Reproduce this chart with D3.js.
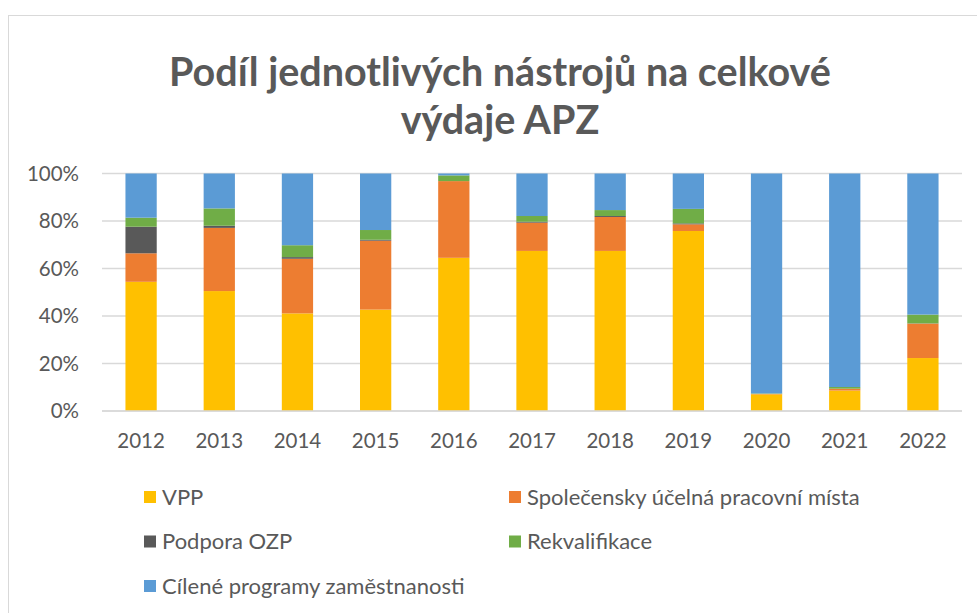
<!DOCTYPE html>
<html>
<head>
<meta charset="utf-8">
<script src="https://cdn.jsdelivr.net/npm/d3@7"></script>
<style>
  body { margin: 0; background: #fff; }
  text { font-family: Lato, "Noto Sans", sans-serif; fill: #595959; }
</style>
</head>
<body>
<script>
// data (percent of total APZ spending)
let years = ['2012', '2013', '2014', '2015', '2016', '2017', '2018', '2019', '2020', '2021', '2022'];
let vpp = [54.4, 50.5, 41.1, 42.7, 64.5, 67.4, 67.4, 75.8, 7.0, 8.6, 22.3];
let supm = [12.0, 26.6, 23.0, 29.0, 32.3, 11.9, 14.3, 2.8, 0.2, 0.8, 14.5];
let ozp = [11.2, 0.9, 0.7, 0.4, 0.0, 0.4, 0.4, 0.4, 0.0, 0.0, 0.1];
let rekv = [3.8, 7.3, 5.0, 4.1, 2.4, 2.4, 2.5, 6.1, 0.2, 0.7, 3.7];
let cilene = [18.6, 14.7, 30.2, 23.8, 0.8, 17.9, 15.4, 14.9, 92.6, 89.9, 59.4];
let seriesNames = ['VPP', 'Společensky účelná pracovní místa', 'Podpora OZP', 'Rekvalifikace', 'Cílené programy zaměstnanosti'];
let yTicks = [0, 0.2, 0.4, 0.6, 0.8, 1];
let titleLines = ['Podíl jednotlivých nástrojů na celkové', 'výdaje APZ'];

let colors = ['#FFC000', '#ED7D31', '#595959', '#70AD47', '#5B9BD5'];
let keys = ['vpp', 'supm', 'ozp', 'rekv', 'cilene'];

let table = years.map(function(y, i) {
  return { year: y, vpp: vpp[i], supm: supm[i], ozp: ozp[i], rekv: rekv[i], cilene: cilene[i] };
});

let width = 977, height = 613;
let plot = { left: 102, right: 962, top: 173.5, bottom: 411 };

let svg = d3.select('body').append('svg').attr('width', width).attr('height', height);

// chart frame
svg.append('rect').attr('x', 8.5).attr('y', 15.5).attr('width', 990).attr('height', 620)
  .attr('fill', '#fff').attr('stroke', '#d9d9d9').attr('stroke-width', 1);

// title
svg.append('g').selectAll('text').data(titleLines).enter().append('text')
  .attr('x', 500).attr('y', function(d, i) { return 86 + i * 48; })
  .attr('text-anchor', 'middle')
  .style('font-size', '39.5px').style('font-weight', 'bold')
  .text(function(d) { return d; });

let x = d3.scaleBand().domain(years).range([plot.left, plot.right]).paddingInner(0.6).paddingOuter(0.3);
let y = d3.scaleLinear().domain([0, 1]).range([plot.bottom, plot.top]);

// gridlines
svg.append('g').selectAll('line').data(yTicks).enter().append('line')
  .attr('x1', plot.left).attr('x2', plot.right)
  .attr('y1', function(d) { return y(d); }).attr('y2', function(d) { return y(d); })
  .attr('stroke', '#d9d9d9').attr('stroke-width', 1.5);

// y labels
svg.append('g').selectAll('text').data(yTicks).enter().append('text')
  .attr('x', 79).attr('y', function(d) { return y(d); }).attr('dy', '0.35em')
  .attr('text-anchor', 'end').style('font-size', '20.5px')
  .text(d3.format('.0%'));

let stacked = d3.stack().keys(keys).offset(d3.stackOffsetExpand)(table);

svg.append('g').selectAll('g').data(stacked).enter().append('g')
  .attr('fill', function(d, i) { return colors[i]; })
  .selectAll('rect').data(function(d) { return d; }).enter().append('rect')
  .attr('x', function(d) { return x(d.data.year); })
  .attr('width', x.bandwidth())
  .attr('y', function(d) { return y(d[1]); })
  .attr('height', function(d) { return y(d[0]) - y(d[1]); });

// redraw baseline over bars
svg.append('line').attr('x1', plot.left).attr('x2', plot.right)
  .attr('y1', y(0)).attr('y2', y(0)).attr('stroke', '#d9d9d9').attr('stroke-width', 1.5);

// x labels
svg.append('g').selectAll('text').data(years).enter().append('text')
  .attr('x', function(d) { return x(d) + x.bandwidth() / 2; }).attr('y', 441).attr('dy', '0.35em')
  .attr('text-anchor', 'middle').style('font-size', '20.5px')
  .text(function(d) { return d; });

// legend, two columns
let legend = svg.append('g').selectAll('g').data(seriesNames).enter().append('g')
  .attr('transform', function(d, i) {
    return 'translate(' + (i % 2 ? 509 : 144) + ',' + (497 + Math.floor(i / 2) * 44.5) + ')';
  });
legend.append('rect').attr('x', 0).attr('y', -6).attr('width', 12).attr('height', 12)
  .attr('fill', function(d, i) { return colors[i]; });
legend.append('text').attr('x', 18).attr('dy', '0.35em').style('font-size', '22px')
  .text(function(d) { return d; });
</script>
</body>
</html>
